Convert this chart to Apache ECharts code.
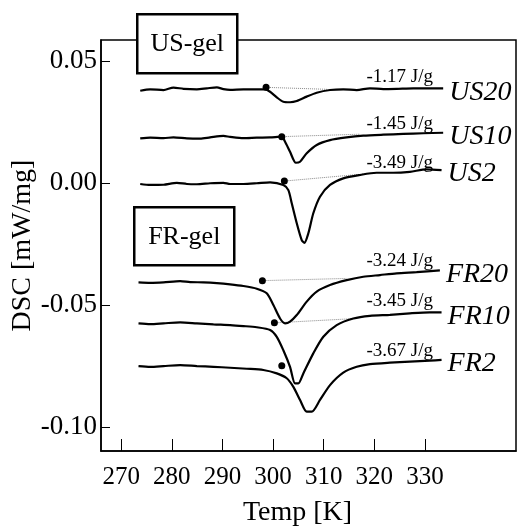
<!DOCTYPE html>
<html>
<head>
<meta charset="utf-8">
<title>DSC</title>
<script src="https://cdn.jsdelivr.net/npm/echarts@6/dist/echarts.min.js"></script>
<style>
html, body { margin: 0; padding: 0; background: #fff; }
#main { width: 517px; height: 532px; }
</style>
</head>
<body>
<div id="main"></div>
<script>
// ticks
var xTicks = [270, 280, 290, 300, 310, 320, 330];
var yTicks = [0.05, 0.00, -0.05, -0.10];

// curves (temperature K, DSC mW/mg)
var us20T = [273.75, 275.72, 278.35, 280.32, 282.30, 284.94, 286.91, 288.89, 290.19, 291.51, 294.14, 296.78, 298.42, 299.41, 300.73, 302.03, 303.35, 304.68, 306.65, 308.62, 311.25, 313.87, 316.52, 319.14, 321.77, 324.41, 327.69, 333.61];
var us20V = [0.0378, 0.0384, 0.0381, 0.0391, 0.0386, 0.0384, 0.0388, 0.0392, 0.0385, 0.0382, 0.0384, 0.0384, 0.0384, 0.0374, 0.0351, 0.0333, 0.0331, 0.0336, 0.0354, 0.0370, 0.0381, 0.0384, 0.0381, 0.0388, 0.0385, 0.0386, 0.0388, 0.0388];

var us10T = [273.75, 275.72, 278.35, 280.32, 282.97, 285.59, 287.56, 290.19, 291.51, 294.14, 296.78, 299.41, 301.72, 302.37, 303.35, 304.50, 305.33, 306.65, 308.62, 311.25, 314.54, 317.82, 321.77, 325.71, 329.66, 333.61];
var us10V = [0.0183, 0.0186, 0.0184, 0.0187, 0.0183, 0.0182, 0.0187, 0.0193, 0.0189, 0.0184, 0.0186, 0.0187, 0.0190, 0.0169, 0.0128, 0.0083, 0.0087, 0.0122, 0.0156, 0.0176, 0.0187, 0.0194, 0.0198, 0.0201, 0.0204, 0.0206];

var us2T = [273.75, 275.72, 278.35, 280.99, 282.97, 284.94, 287.56, 290.19, 291.51, 294.14, 296.78, 299.41, 302.03, 303.02, 303.69, 304.68, 305.66, 306.18, 306.97, 307.95, 309.27, 311.25, 313.87, 317.17, 320.46, 323.74, 327.03, 330.33, 333.29];
var us2V = [-0.0004, -0.0008, -0.0007, 0.0001, -0.0004, -0.0005, -0.0001, 0.0001, -0.0004, -0.0004, -0.0001, 0.0003, -0.0008, -0.0029, -0.0083, -0.0165, -0.0234, -0.0245, -0.0206, -0.0124, -0.0056, -0.0008, 0.0019, 0.0033, 0.0042, 0.0042, 0.0046, 0.0056, 0.0053];

var fr20T = [273.41, 275.72, 278.35, 281.64, 283.62, 286.24, 288.89, 291.51, 294.14, 296.78, 298.75, 300.06, 301.38, 302.37, 303.35, 304.68, 306.65, 308.62, 311.25, 314.54, 317.82, 321.12, 324.41, 328.36, 332.96];
var fr20V = [-0.0407, -0.0409, -0.0407, -0.0402, -0.0406, -0.0407, -0.0410, -0.0415, -0.0422, -0.0433, -0.0452, -0.0500, -0.0555, -0.0575, -0.0568, -0.0541, -0.0486, -0.0445, -0.0418, -0.0398, -0.0384, -0.0377, -0.0370, -0.0365, -0.0358];

var fr10T = [273.41, 275.72, 278.35, 281.64, 284.94, 288.22, 291.51, 294.14, 296.78, 299.41, 300.73, 302.03, 303.35, 304.34, 304.99, 305.98, 307.95, 309.93, 312.57, 315.85, 319.14, 323.09, 327.03, 330.98, 333.29];
var fr10V = [-0.0575, -0.0578, -0.0575, -0.0571, -0.0575, -0.0579, -0.0582, -0.0586, -0.0591, -0.0602, -0.0630, -0.0685, -0.0753, -0.0821, -0.0821, -0.0780, -0.0698, -0.0630, -0.0582, -0.0555, -0.0544, -0.0540, -0.0534, -0.0530, -0.0530];

var fr2T = [273.41, 275.72, 278.35, 281.64, 284.94, 288.22, 291.51, 294.81, 298.08, 300.73, 302.70, 304.01, 305.33, 306.65, 307.64, 309.27, 311.25, 313.87, 316.52, 319.14, 323.09, 327.03, 330.98, 333.29];
var fr2V = [-0.0750, -0.0753, -0.0750, -0.0746, -0.0750, -0.0753, -0.0757, -0.0761, -0.0766, -0.0780, -0.0800, -0.0835, -0.0889, -0.0937, -0.0937, -0.0889, -0.0828, -0.0777, -0.0753, -0.0742, -0.0736, -0.0732, -0.0728, -0.0725];

var names = ['US20', 'US10', 'US2', 'FR20', 'FR10', 'FR2'];
var heats = ['-1.17 J/g', '-1.45 J/g', '-3.49 J/g', '-3.24 J/g', '-3.45 J/g', '-3.67 J/g'];

// onset dots and dotted baselines
var dotT = [298.62, 301.72, 302.23, 297.89, 300.26, 301.72];
var dotV = [0.0392, 0.0190, 0.0008, -0.0400, -0.0573, -0.0749];
var baseEndT = [310.6, 317.17, 320.1, 314.54, 316.52];
var baseEndV = [0.0384, 0.0200, 0.0041, -0.0391, -0.0555];

// where the heat labels sit (right edge, middle)
var noteT = [331.6, 331.6, 331.6, 331.6, 331.6, 331.6];
var noteV = [0.0434, 0.0242, 0.0082, -0.0320, -0.0484, -0.0689];

var font = 'Liberation Serif';

function pairs(t, v) {
	var out = [];
	for (var i = 0; i < t.length; i++) {
		out.push([ t[i], v[i] ]);
	}
	return out;
}

var curves = [ [ us20T, us20V ], [ us10T, us10V ], [ us2T, us2V ], [ fr20T, fr20V ], [ fr10T, fr10V ], [ fr2T, fr2V ] ];

var series = [];
curves.forEach(function(c, i) {
	series.push({
		name : names[i],
		type : 'line',
		data : pairs(c[0], c[1]),
		smooth : 0.25,
		symbol : 'none',
		lineStyle : { color : '#000', width : 2.2 },
		endLabel : {
			show : true,
			formatter : names[i],
			distance : 6,
			offset : [ 0, 4 ],
			color : '#000',
			fontFamily : font,
			fontStyle : 'italic',
			fontSize : 28
		},
		z : 3
	});
});

baseEndT.forEach(function(t, i) {
	series.push({
		type : 'line',
		data : [ [ dotT[i], dotV[i] ], [ t, baseEndV[i] ] ],
		symbol : 'none',
		lineStyle : { color : '#888', width : 1, type : 'dotted' },
		z : 2
	});
});

series.push({
	type : 'scatter',
	data : pairs(dotT, dotV),
	symbolSize : 7,
	itemStyle : { color : '#000', opacity : 1 },
	z : 4
});

series.push({
	type : 'scatter',
	data : pairs(noteT, noteV),
	symbolSize : 0,
	itemStyle : { opacity : 1 },
	label : {
		show : true,
		position : 'left',
		distance : 0,
		formatter : function(p) {
			return heats[p.dataIndex];
		},
		color : '#000',
		opacity : 1,
		fontFamily : font,
		fontSize : 19
	},
	z : 4
});

var myChart = echarts.init(document.getElementById('main'));
var option = {
	backgroundColor : '#fff',
	animation : false,
	grid : {
		left : 101,
		right : 1,
		top : 40,
		bottom : 81,
		outerBoundsMode : 'none',
		containLabel : false,
		show : true,
		borderColor : '#000',
		borderWidth : 1.5
	},
	xAxis : {
		type : 'value',
		min : 266,
		max : 348,
		name : 'Temp [K]',
		nameLocation : 'middle',
		nameGap : 48,
		nameMoveOverlap : false,
		nameTextStyle : { color : '#000', fontFamily : font, fontSize : 28, padding : [ 0, 22, 0, 0 ] },
		axisLine : { onZero : false, lineStyle : { color : '#000', width : 1.5 } },
		axisTick : { inside : true, length : 12, customValues : xTicks, lineStyle : { color : '#000', width : 1 } },
		axisLabel : { customValues : xTicks, margin : 14, color : '#000', fontFamily : font, fontSize : 25 },
		splitLine : { show : false }
	},
	yAxis : {
		type : 'value',
		min : -0.1098,
		max : 0.0586,
		name : 'DSC [mW/mg]',
		nameLocation : 'middle',
		nameGap : 64,
		nameMoveOverlap : false,
		nameTextStyle : { color : '#000', fontFamily : font, fontSize : 28 },
		axisLine : { onZero : false, lineStyle : { color : '#000', width : 1.5 } },
		axisTick : { inside : true, length : 9, customValues : yTicks, lineStyle : { color : '#000', width : 1 } },
		axisLabel : {
			customValues : yTicks,
			margin : 4,
			color : '#000',
			fontFamily : font,
			fontSize : 27,
			formatter : function(v) {
				return v.toFixed(2);
			}
		},
		splitLine : { show : false }
	},
	graphic : [ {
		type : 'group',
		left : 136,
		top : 13,
		z : 100,
		children : [ {
			type : 'rect',
			shape : { x : 0, y : 0, width : 100, height : 59 },
			style : { fill : '#fff', stroke : '#000', lineWidth : 2.5 }
		}, {
			type : 'text',
			x : 50,
			y : 30,
			style : { text : 'US-gel', fill : '#000', font : '26px "Liberation Serif"', align : 'center', verticalAlign : 'middle' }
		} ]
	}, {
		type : 'group',
		left : 133,
		top : 206,
		z : 100,
		children : [ {
			type : 'rect',
			shape : { x : 0, y : 0, width : 100, height : 58 },
			style : { fill : '#fff', stroke : '#000', lineWidth : 2.5 }
		}, {
			type : 'text',
			x : 50,
			y : 30,
			style : { text : 'FR-gel', fill : '#000', font : '26px "Liberation Serif"', align : 'center', verticalAlign : 'middle' }
		} ]
	} ],
	series : series
};
myChart.setOption(option);
</script>
</body>
</html>
